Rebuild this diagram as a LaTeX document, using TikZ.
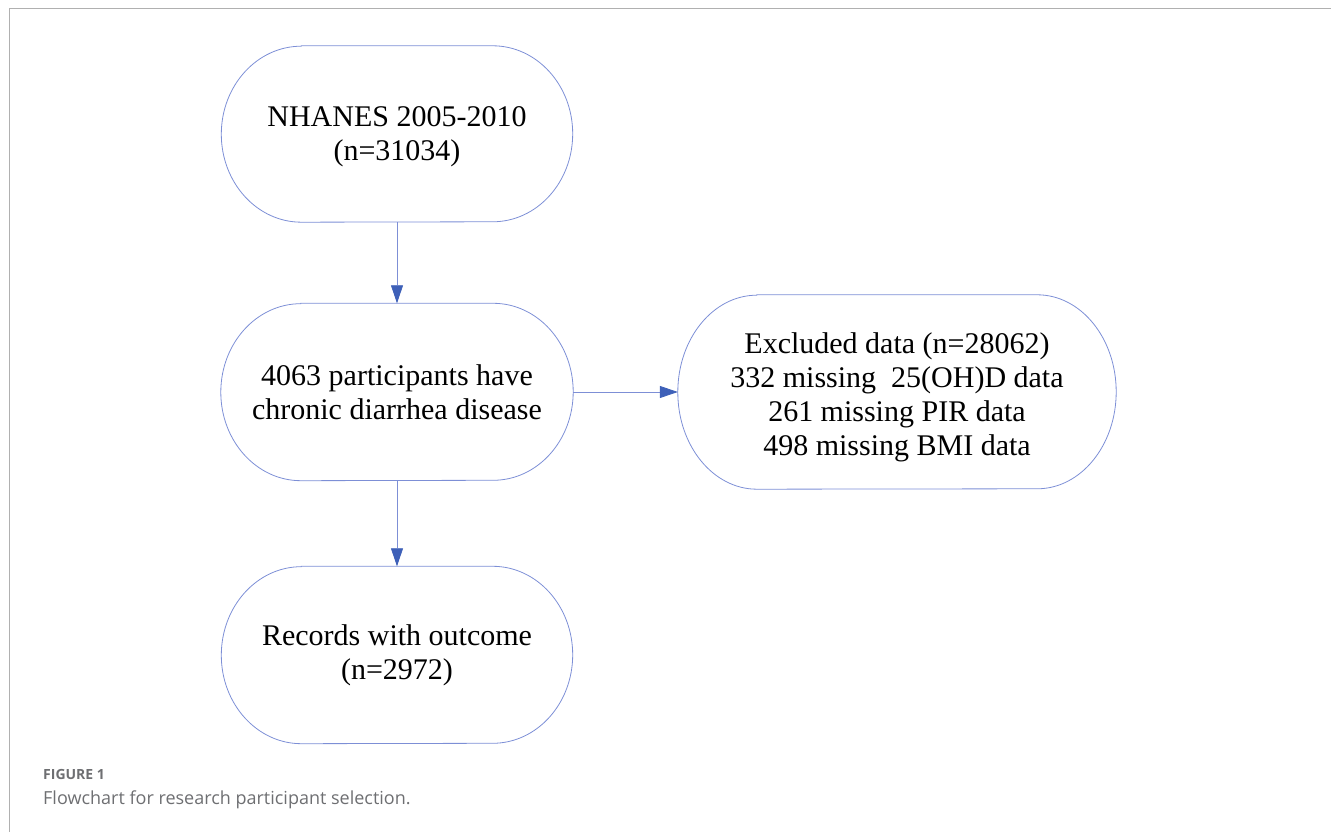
\documentclass[tikz,border=0pt]{standalone}
\usepackage{fontspec}
\setmainfont{Liberation Serif}
\newfontfamily\capfont{Open Sans}
\usetikzlibrary{arrows.meta,calc}
\definecolor{boxblue}{RGB}{125,143,214}
\definecolor{headblue}{RGB}{62,96,184}
\definecolor{framegray}{RGB}{176,176,176}
\definecolor{capgray}{RGB}{110,111,114}
\newcommand\stadium[3]{%
  \draw[boxline] let \p1=(#1.north west), \p2=(#1.south east) in
    (\x1+#2,\y1) -- (\x2-#2,\y1)
    arc[start angle=90,end angle=-90,x radius=#2,y radius=#3]
    -- (\x1+#2,\y2)
    arc[start angle=270,end angle=90,x radius=#2,y radius=#3] -- cycle;}
\begin{document}
\begin{tikzpicture}[x=1pt,y=1pt,
  flowbox/.style={rectangle,inner sep=0pt,draw=none,align=center,
    font=\rmfamily\fontsize{30}{34}\selectfont},
  boxline/.style={draw=boxblue,line width=0.8pt},
  flowarrow/.style={draw=boxblue,line width=0.8pt,
    -{Triangle[length=18pt,width=12pt,color=headblue]}},
  captext/.style={anchor=base west,inner sep=0pt,text=capgray}]
\useasboundingbox (0,0) rectangle (1331,832);
\draw[framegray,line width=1.6pt] (1331,823.5) -- (9.5,823.5) -- (9.5,0);

\node[flowbox,minimum width=351pt,minimum height=176pt] (n1) at (397,698)
  {\rule{0pt}{26pt}NHANES 2005-2010\\(n=31034)};
\node[flowbox,minimum width=352pt,minimum height=177pt] (n2) at (397,440)
  {4063 participants have\\chronic diarrhea disease};
\node[flowbox,minimum width=438pt,minimum height=194pt] (n3) at (897,440)
  {\rule{0pt}{32pt}Excluded data (n=28062)\\332 missing\ \ 25(OH)D data\\261 missing PIR data\\498 missing BMI data};
\node[flowbox,minimum width=351pt,minimum height=177pt] (n4) at (397,177)
  {Records with outcome\\(n=2972)};

\stadium{n1}{80pt}{88pt}
\stadium{n2}{80pt}{88.5pt}
\stadium{n3}{79pt}{97pt}
\stadium{n4}{80pt}{88.5pt}

\draw[flowarrow] (n1.south) -- (n2.north);
\draw[flowarrow] (n2.south) -- (n4.north);
\draw[flowarrow] (n2.east) -- (n3.west);

\node[captext,font=\capfont\bfseries\fontsize{14}{16}\selectfont] (figlabel) at (43,52) {FIGURE 1};
\node[captext,font=\capfont\fontsize{18}{20}\selectfont] (figcap) at (43,27) {Flowchart for research participant selection.};
\end{tikzpicture}
\end{document}
